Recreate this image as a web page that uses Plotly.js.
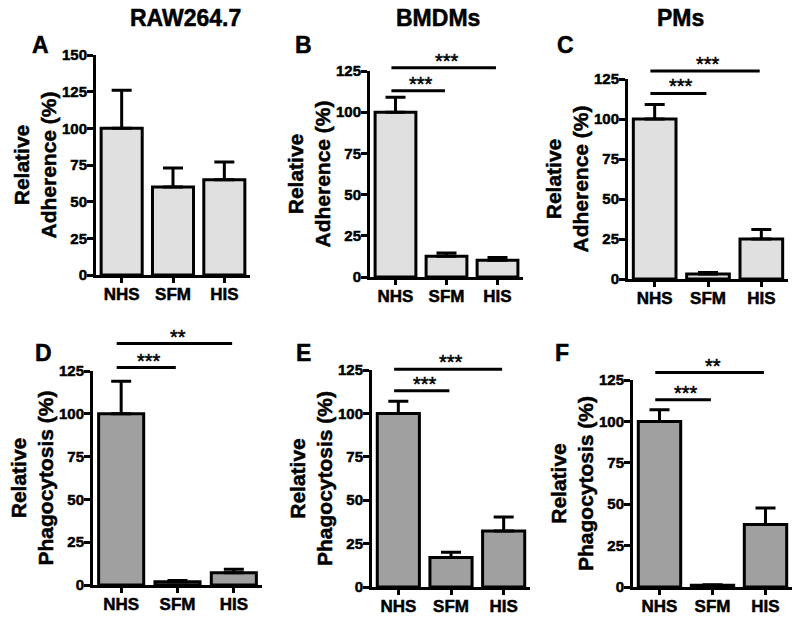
<!DOCTYPE html>
<html>
<head>
<meta charset="utf-8">
<script src="https://cdn.plot.ly/plotly-3.0.1.min.js"></script>
<style>
html,body{margin:0;padding:0;background:#fff;}
#chart{width:800px;height:619px;}
#chart g.xaxislayer-above text, #chart g.yaxislayer-above text,
#chart g[class^="g-y"] text, #chart g[class^="g-x"] text,
#chart .annotation-text-g text.annotation-text { stroke:#000; stroke-width:0.5px; }
</style>
</head>
<body>
<div id="chart"></div>
<script>
// ---- data ----
const categories = ['NHS', 'SFM', 'HIS'];
const columnTitles = ['RAW264.7', 'BMDMs', 'PMs'];
const panelLetters = ['A', 'B', 'C', 'D', 'E', 'F'];
const yTitleAdherence = 'Relative<br>Adherence (%)';
const yTitlePhagocytosis = 'Relative<br>Phagocytosis (%)';

const adhRAW = [100, 60, 65];
const errAdhRAW = [26, 13, 12];
const adhBMDM = [100, 12.6, 10.1];
const errAdhBMDM = [9, 2, 1.7];
const adhPM = [100, 3.1, 25];
const errAdhPM = [9, 1, 6];
const phaRAW = [100, 1.9, 7.2];
const errPhaRAW = [19, 0.7, 2];
const phaBMDM = [100, 17, 32.3];
const errPhaBMDM = [7, 3, 8];
const phaPM = [100, 1, 37.7];
const errPhaPM = [7, 0.3, 10];

const sigPairs = [[0, 1], [0, 2]];
const sigHeightsB = [113, 127];
const sigLabelsB = ['***', '***'];
const sigHeightsC = [116, 130];
const sigLabelsC = ['***', '***'];
const sigHeightsD = [127, 141];
const sigLabelsD = ['***', '**'];
const sigHeightsE = [113, 125.5];
const sigLabelsE = ['***', '***'];
const sigHeightsF = [113, 129.5];
const sigLabelsF = ['***', '**'];

// ---- layout helpers ----
const W = 800, H = 619;
const FONT = 'Arial, "Liberation Sans", Helvetica, sans-serif';
const LIGHT = '#e0e0e0', DARK = '#a0a0a0';

// pixel boxes of each plotting area: [left, right, top, bottom]
const panels = [
  {box: [96, 250, 55, 275], vals: adhRAW, errs: errAdhRAW, ymax: 150, color: LIGHT, title: yTitleAdherence, sigH: [], sigL: []},
  {box: [370, 523, 71, 277], vals: adhBMDM, errs: errAdhBMDM, ymax: 125, color: LIGHT, title: yTitleAdherence, sigH: sigHeightsB, sigL: sigLabelsB},
  {box: [628, 788, 79, 279], vals: adhPM, errs: errAdhPM, ymax: 125, color: LIGHT, title: yTitleAdherence, sigH: sigHeightsC, sigL: sigLabelsC},
  {box: [93, 262, 371, 585], vals: phaRAW, errs: errPhaRAW, ymax: 125, color: DARK, title: yTitlePhagocytosis, sigH: sigHeightsD, sigL: sigLabelsD},
  {box: [372, 530, 370, 587], vals: phaBMDM, errs: errPhaBMDM, ymax: 125, color: DARK, title: yTitlePhagocytosis, sigH: sigHeightsE, sigL: sigLabelsE},
  {box: [633, 792, 380, 587], vals: phaPM, errs: errPhaPM, ymax: 125, color: DARK, title: yTitlePhagocytosis, sigH: sigHeightsF, sigL: sigLabelsF}
];

const letterPos = [[40, 45], [303, 45], [565, 45], [43, 353], [303, 353], [562, 353]];
const colTitlePos = [[185, 18], [438, 18], [680, 18]];

const data = [];
const layout = {
  width: W, height: H,
  margin: {l: 0, r: 0, t: 0, b: 0},
  paper_bgcolor: '#fff', plot_bgcolor: 'rgba(0,0,0,0)',
  showlegend: false,
  font: {family: FONT, color: '#000'},
  annotations: [],
  shapes: []
};

panels.forEach((p, i) => {
  const n = i + 1;
  const xs = n === 1 ? '' : String(n);
  const xName = 'x' + xs, yName = 'y' + xs;
  data.push({
    type: 'bar', x: categories, y: p.vals,
    xaxis: xName, yaxis: yName,
    marker: {color: p.color, line: {color: '#000', width: 3}},
    error_y: {type: 'data', symmetric: false, array: p.errs, arrayminus: p.errs.map(() => 0),
              color: '#000', thickness: 3, width: 10},
    hoverinfo: 'x+y'
  });
  const [l, r, t, b] = p.box;
  layout['xaxis' + xs] = {
    domain: [l / W, r / W], anchor: yName, type: 'category',
    range: [-0.5, 2.5],
    showline: true, linewidth: 3, linecolor: '#000',
    ticks: 'outside', ticklen: 5, tickwidth: 3, tickcolor: '#000',
    ticklabelstandoff: -3,
    showgrid: false, zeroline: false,
    tickfont: {family: FONT, size: 17, color: '#000', weight: 'bold'}
  };
  layout['yaxis' + xs] = {
    domain: [1 - b / H, 1 - t / H], anchor: xName,
    range: [0, p.ymax], tick0: 0, dtick: 25,
    showline: true, linewidth: 3, linecolor: '#000',
    ticks: 'outside', ticklen: 6, tickwidth: 3, tickcolor: '#000',
    ticklabelstandoff: -3,
    showgrid: false, zeroline: false,
    tickfont: {family: FONT, size: 15, color: '#000', weight: 'bold'},
    title: {text: p.title, font: {family: FONT, size: 21, color: '#000', weight: 'bold'}, standoff: 0}
  };
  p.sigH.forEach((h, k) => {
    const [a, c] = sigPairs[k];
    layout.shapes.push({
      type: 'line', xref: xName, yref: yName + ' domain',
      x0: a - 0.08, x1: c - 0.03, y0: h / p.ymax, y1: h / p.ymax,
      line: {color: '#000', width: 3}
    });
    layout.annotations.push({
      xref: xName, yref: yName + ' domain', x: (a + c) / 2, y: h / p.ymax,
      text: p.sigL[k], showarrow: false, yanchor: 'bottom', xanchor: 'center', yshift: -6,
      font: {family: FONT, size: 20, color: '#000'}
    });
  });
  layout.annotations.push({
    xref: 'paper', yref: 'paper', x: letterPos[i][0] / W, y: 1 - letterPos[i][1] / H,
    text: panelLetters[i], showarrow: false, xanchor: 'center', yanchor: 'middle',
    font: {family: FONT, size: 23, color: '#000', weight: 'bold'}
  });
});

columnTitles.forEach((t, i) => {
  layout.annotations.push({
    xref: 'paper', yref: 'paper', x: colTitlePos[i][0] / W, y: 1 - colTitlePos[i][1] / H,
    text: t, showarrow: false, xanchor: 'center', yanchor: 'middle',
    font: {family: FONT, size: 23, color: '#000', weight: 'bold'}
  });
});

Plotly.newPlot('chart', data, layout, {displayModeBar: false, staticPlot: true});
</script>
</body>
</html>
